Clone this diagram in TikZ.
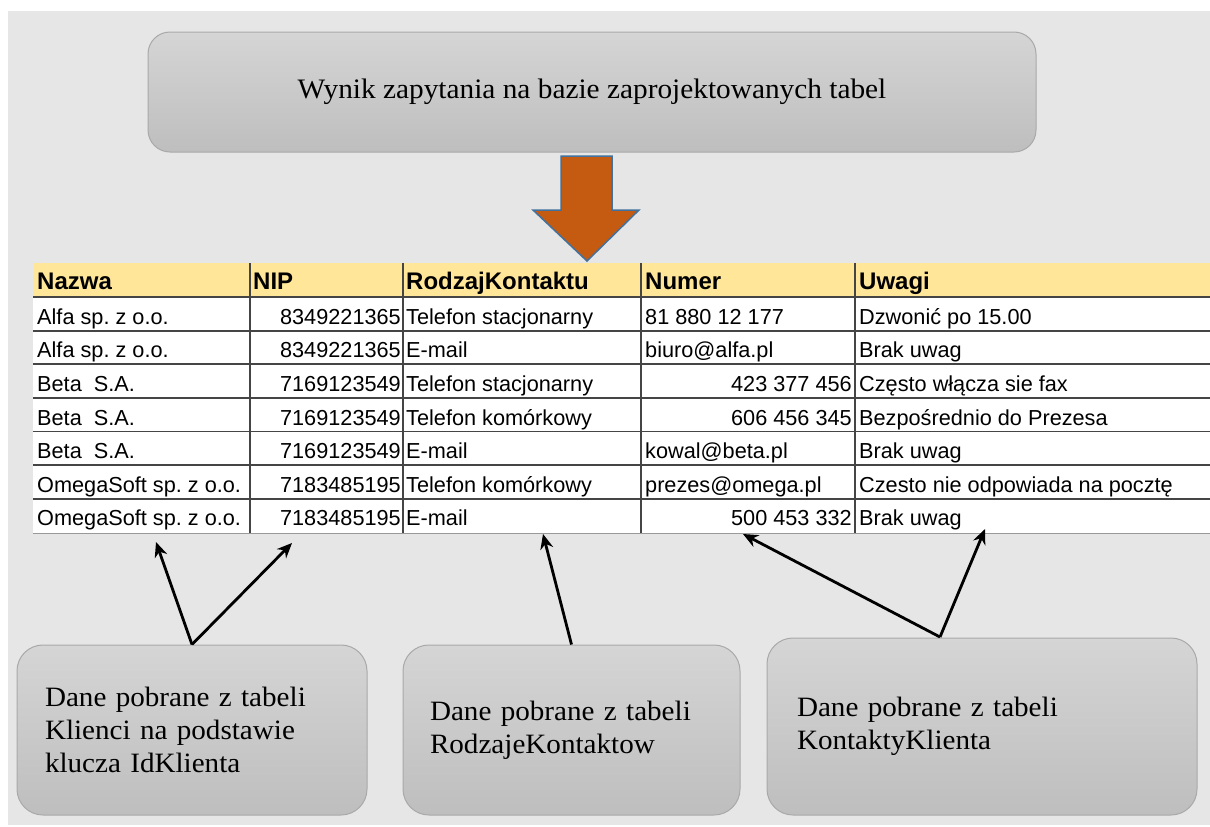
\documentclass[tikz,border=0pt]{standalone}
\usepackage{fontspec}
\setmainfont{Liberation Serif}
\newfontfamily\tabfont{Liberation Sans}
\newfontfamily\boxfont[FakeStretch=1.04]{Liberation Serif}
\usetikzlibrary{arrows.meta}
\frenchspacing
\definecolor{bgc}{HTML}{E7E6E6}
\definecolor{boxtop}{HTML}{D5D5D5}
\definecolor{boxbot}{HTML}{BEBEBE}
\definecolor{boxline}{HTML}{A9A9A9}
\definecolor{hdrfill}{HTML}{FFE699}
\definecolor{gridc}{HTML}{454545}
\definecolor{orangefill}{HTML}{C55A11}
\definecolor{bluestroke}{HTML}{41719C}
\tikzset{
  grayshape/.style={draw=boxline, line width=1pt, top color=boxtop, bottom color=boxbot},
  bigbox/.style={grayshape, rounded corners=22pt, font=\fontsize{28.2}{32}\boxfont},
  lowbox/.style={grayshape, rounded corners=26pt, align=left, inner ysep=0pt,
    font=\fontsize{28}{33}\boxfont},
  cell/.style={inner sep=0pt, font=\fontsize{21.7}{25}\tabfont},
  hcell/.style={inner sep=0pt, font=\fontsize{24}{28}\tabfont\bfseries},
  rowline/.style={draw=gridc, line width=1.8pt},
  colline/.style={draw=gridc, line width=1.5pt},
  pointer/.style={draw=black, line width=2.8pt, -{Stealth[length=15pt,width=13pt]}},
}
\newcommand\trow[8]{%
  \pgfmathsetmacro\trowy{297+33.64*#1-6.5}%
  \node[cell, anchor=base west] (name#1) at (37,\trowy) {#2};
  \node[cell, anchor=base east] (nip#1) at (401,\trowy) {#3};
  \node[cell, anchor=base west] (kind#1) at (406,\trowy) {#4};
  \node[cell, anchor=#5] (num#1) at (#6,\trowy) {#7};
  \node[cell, anchor=base west] (uw#1) at (859,\trowy) {#8};
}
\begin{document}
\begin{tikzpicture}[x=1pt,y=-1pt]
\useasboundingbox (0,0) rectangle (1210,827);
\fill[white] (0,0) rectangle (1210,827);
\fill[bgc] (8,11) rectangle (1210,825);

% top box
\node[bigbox, minimum width=888pt, minimum height=120pt] (top) at (592,92)
  {\raisebox{-5pt}{Wynik zapytania na bazie zaprojektowanych tabel}};

% orange arrow
\draw[fill=orangefill, draw=bluestroke, line width=1.5pt, line join=miter]
  (561,156) -- (612,156) -- (612,210) -- (639,210) -- (587,261) -- (533,210) -- (561,210) -- cycle;

% table
\fill[hdrfill] (33,263) rectangle (1210,297);
\fill[white] (33,297) rectangle (1210,533);
\foreach \i in {0,...,6} {
  \draw[rowline] (33,{297+33.64*\i}) -- (1210,{297+33.64*\i});
}
\draw[draw=gray!80, line width=1pt] (33,533) -- (1210,533);
\foreach \cx in {250,403,641,855} {
  \draw[colline] (\cx,263) -- (\cx,533);
}
\node[hcell, anchor=base west] (hNazwa) at (37,289.5) {Nazwa};
\node[hcell, anchor=base west] (hNIP) at (253,289.5) {NIP};
\node[hcell, anchor=base west] (hRodz) at (406,289.5) {RodzajKontaktu};
\node[hcell, anchor=base west] (hNumer) at (645,289.5) {Numer};
\node[hcell, anchor=base west] (hUwagi) at (859,289.5) {Uwagi};

\trow{1}{Alfa sp. z o.o.}{8349221365}{Telefon stacjonarny}{base west}{645}{81 880 12 177}{Dzwonić po 15.00}
\trow{2}{Alfa sp. z o.o.}{8349221365}{E-mail}{base west}{645}{biuro@alfa.pl}{Brak uwag}
\trow{3}{Beta~~S.A.}{7169123549}{Telefon stacjonarny}{base east}{852}{423 377 456}{Często włącza sie fax}
\trow{4}{Beta~~S.A.}{7169123549}{Telefon komórkowy}{base east}{852}{606 456 345}{Bezpośrednio do Prezesa}
\trow{5}{Beta~~S.A.}{7169123549}{E-mail}{base west}{645}{kowal@beta.pl}{Brak uwag}
\trow{6}{OmegaSoft sp. z o.o.}{7183485195}{Telefon komórkowy}{base west}{645}{prezes@omega.pl}{Czesto nie odpowiada na pocztę}
\trow{7}{OmegaSoft sp. z o.o.}{7183485195}{E-mail}{base east}{852}{500 453 332}{Brak uwag}

% bottom boxes
\node[lowbox, text width=294pt, inner xsep=28pt, minimum height=170pt] (box1) at (192,730)
  {Dane pobrane z tabeli\\Klienci na podstawie\\klucza IdKlienta};
\node[lowbox, text width=283pt, inner xsep=27pt, minimum height=170pt] (box2) at (571.5,730)
  {Dane pobrane z tabeli\\RodzajeKontaktow};
\node[lowbox, text width=370pt, inner xsep=30pt, minimum height=177pt] (box3) at (982,726.5)
  {Dane pobrane z tabeli\\KontaktyKlienta};

% arrow targets
\coordinate (tNazwa) at (156,542);
\coordinate (tNIP) at (292,543);
\coordinate (tRodz) at (543,534);
\coordinate (tNumer) at (743,534);
\coordinate (tUwagi) at (985,529);
\coordinate (b3src) at (940,637);

\draw[pointer] (box1.north) -- (tNazwa);
\draw[pointer] (box1.north) -- (tNIP);
\draw[pointer] (box2.north) -- (tRodz);
\draw[pointer] (b3src) -- (tNumer);
\draw[pointer] (b3src) -- (tUwagi);
\end{tikzpicture}
\end{document}
